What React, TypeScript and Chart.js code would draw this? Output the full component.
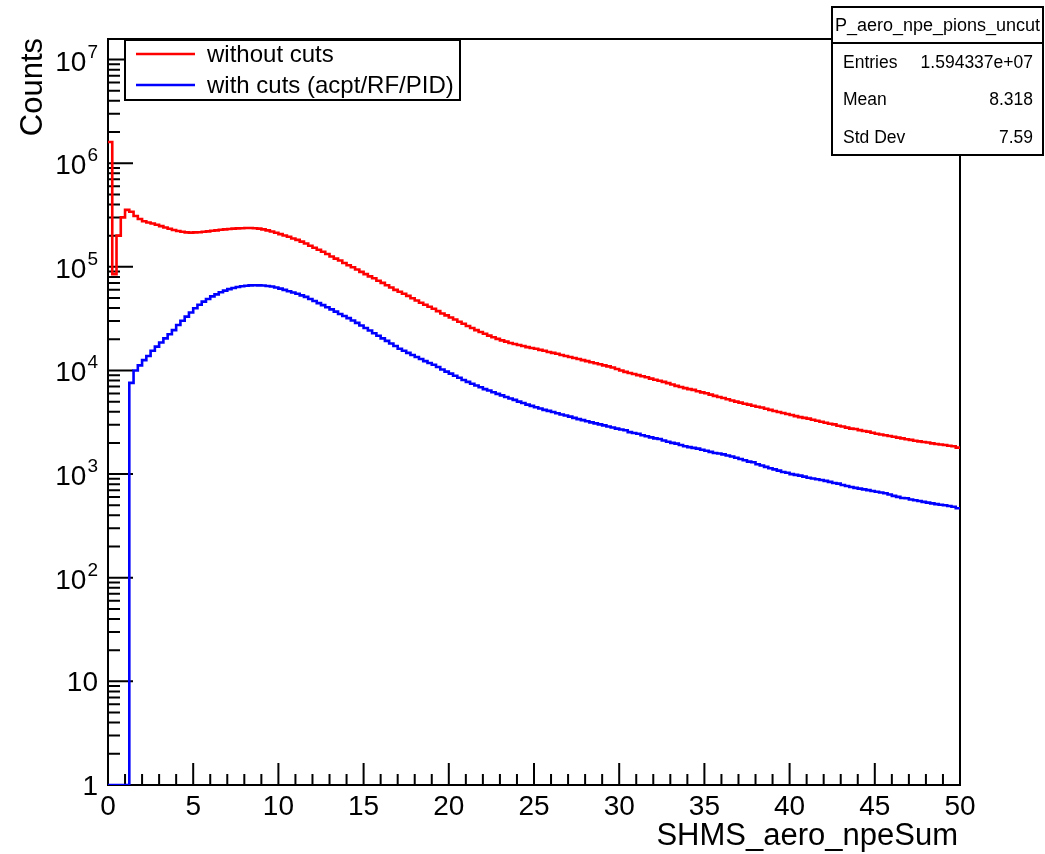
import React, { useEffect, useRef } from 'react';
import { Chart, registerables } from 'chart.js';

Chart.register(...registerables);

// ---------------- data ----------------
const BIN_WIDTH = 0.25; // 200 bins from 0 to 50
const X_MIN = 0;
const X_MAX = 50;
const Y_MIN = 1;
const Y_MAX = 1.58e7;

const withoutCuts = [
  1.6e6, 8.5e4, 2.0e5, 3.0e5, 3.55e5, 3.4e5, 3.1e5, 2.9e5, 2.75e5, 2.68e5,
  2.62e5, 2.55e5, 2.47e5, 2.4e5, 2.33e5, 2.27e5, 2.22e5, 2.18e5, 2.15e5, 2.14e5,
  2.15e5, 2.16e5, 2.18e5, 2.2e5, 2.23e5, 2.25e5, 2.28e5, 2.3e5, 2.32e5, 2.34e5,
  2.35e5, 2.36e5, 2.37e5, 2.37e5, 2.36e5, 2.34e5, 2.3e5, 2.25e5, 2.19e5, 2.13e5,
  2.07e5, 2.01e5, 1.95e5, 1.88e5, 1.82e5, 1.75e5, 1.68e5, 1.6e5, 1.53e5, 1.46e5,
  1.4e5, 1.33e5, 1.26e5, 1.2e5, 1.15e5, 1.09e5, 1.035e5, 9.9e4, 9.44e4, 8.95e4,
  8.51e4, 8.1e4, 7.76e4, 7.35e4, 7.0e4, 6.65e4, 6.31e4, 6.0e4, 5.75e4, 5.5e4,
  5.25e4, 4.98e4, 4.73e4, 4.5e4, 4.31e4, 4.12e4, 3.94e4, 3.74e4, 3.55e4, 3.4e4,
  3.24e4, 3.1e4, 2.95e4, 2.82e4, 2.69e4, 2.57e4, 2.45e4, 2.35e4, 2.26e4, 2.17e4,
  2.09e4, 2.02e4, 1.95e4, 1.9e4, 1.84e4, 1.8e4, 1.76e4, 1.72e4, 1.68e4, 1.65e4,
  1.62e4, 1.58e4, 1.55e4, 1.51e4, 1.48e4, 1.45e4, 1.41e4, 1.38e4, 1.35e4, 1.32e4,
  1.29e4, 1.26e4, 1.23e4, 1.2e4, 1.175e4, 1.15e4, 1.12e4, 1.095e4, 1.07e4, 1.035e4,
  1.0e4, 9.7e3, 9.44e3, 9.25e3, 9.02e3, 8.8e3, 8.61e3, 8.35e3, 8.13e3, 7.95e3,
  7.76e3, 7.55e3, 7.33e3, 7.1e3, 6.92e3, 6.75e3, 6.61e3, 6.5e3, 6.31e3, 6.15e3,
  6.03e3, 5.85e3, 5.69e3, 5.55e3, 5.43e3, 5.28e3, 5.13e3, 5.0e3, 4.9e3, 4.78e3,
  4.68e3, 4.57e3, 4.47e3, 4.4e3, 4.27e3, 4.17e3, 4.07e3, 3.98e3, 3.89e3, 3.8e3,
  3.72e3, 3.63e3, 3.55e3, 3.49e3, 3.43e3, 3.35e3, 3.27e3, 3.2e3, 3.13e3, 3.06e3,
  3.02e3, 2.93e3, 2.88e3, 2.81e3, 2.75e3, 2.72e3, 2.66e3, 2.61e3, 2.57e3, 2.51e3,
  2.45e3, 2.41e3, 2.37e3, 2.33e3, 2.29e3, 2.25e3, 2.21e3, 2.17e3, 2.14e3, 2.1e3,
  2.07e3, 2.04e3, 2.02e3, 1.98e3, 1.95e3, 1.93e3, 1.91e3, 1.88e3, 1.86e3, 1.8e3,
];

const withCuts = [
  0, 0, 0, 0, 0, 7.6e3, 1.0e4, 1.12e4, 1.26e4, 1.38e4,
  1.55e4, 1.7e4, 1.86e4, 2.04e4, 2.24e4, 2.45e4, 2.75e4, 3.02e4, 3.31e4, 3.63e4,
  3.98e4, 4.31e4, 4.62e4, 4.9e4, 5.19e4, 5.43e4, 5.69e4, 5.89e4, 6.1e4, 6.24e4,
  6.38e4, 6.49e4, 6.58e4, 6.62e4, 6.64e4, 6.63e4, 6.6e4, 6.53e4, 6.46e4, 6.32e4,
  6.17e4, 6.0e4, 5.82e4, 5.66e4, 5.5e4, 5.3e4, 5.13e4, 4.9e4, 4.68e4, 4.47e4,
  4.27e4, 4.08e4, 3.89e4, 3.7e4, 3.51e4, 3.35e4, 3.2e4, 3.04e4, 2.88e4, 2.72e4,
  2.57e4, 2.43e4, 2.29e4, 2.16e4, 2.04e4, 1.93e4, 1.82e4, 1.72e4, 1.62e4, 1.55e4,
  1.48e4, 1.41e4, 1.35e4, 1.29e4, 1.23e4, 1.18e4, 1.135e4, 1.08e4, 1.023e4, 9.75e3,
  9.33e3, 8.9e3, 8.51e3, 8.1e3, 7.76e3, 7.45e3, 7.16e3, 6.9e3, 6.61e3, 6.4e3,
  6.17e3, 5.95e3, 5.75e3, 5.55e3, 5.37e3, 5.2e3, 5.01e3, 4.85e3, 4.68e3, 4.55e3,
  4.42e3, 4.3e3, 4.17e3, 4.08e3, 3.98e3, 3.87e3, 3.76e3, 3.68e3, 3.59e3, 3.49e3,
  3.39e3, 3.32e3, 3.24e3, 3.16e3, 3.09e3, 3.02e3, 2.95e3, 2.88e3, 2.82e3, 2.75e3,
  2.69e3, 2.65e3, 2.54e3, 2.49e3, 2.45e3, 2.37e3, 2.32e3, 2.26e3, 2.21e3, 2.18e3,
  2.11e3, 2.05e3, 2.0e3, 1.97e3, 1.91e3, 1.86e3, 1.82e3, 1.79e3, 1.76e3, 1.72e3,
  1.68e3, 1.64e3, 1.6e3, 1.58e3, 1.55e3, 1.51e3, 1.48e3, 1.44e3, 1.4e3, 1.36e3,
  1.32e3, 1.3e3, 1.245e3, 1.21e3, 1.175e3, 1.14e3, 1.11e3, 1.08e3, 1.047e3, 1.03e3,
  1.0e3, 983, 966, 945, 923, 907, 891, 876, 861, 841,
  822, 810, 785, 767, 750, 737, 724, 712, 700, 688,
  676, 664, 653, 635, 617, 603, 589, 585, 569, 560,
  550, 540, 531, 522, 513, 507, 501, 492, 484, 468,
];

const seriesLabels = ['without cuts', 'with cuts (acpt/RF/PID)'];
const seriesColors = ['rgb(255,0,0)', 'rgb(0,0,255)'];

const xTickLabels = ['0', '5', '10', '15', '20', '25', '30', '35', '40', '45', '50'];
const xTickValues = [0, 5, 10, 15, 20, 25, 30, 35, 40, 45, 50];
const yTickExponents = [0, 1, 2, 3, 4, 5, 6, 7];

const xTitle = 'SHMS_aero_npeSum';
const yTitle = 'Counts';
const statsTitle = 'P_aero_npe_pions_uncut';
const statsNames = ['Entries', 'Mean', 'Std Dev'];
const statsValues = ['1.594337e+07', '8.318', '7.59'];

const FONT = '"Liberation Sans", Arial, Helvetica, sans-serif';

function toSteps(values: number[]) {
  const pts = values.map((v, i) => ({ x: i * BIN_WIDTH, y: v > 0 ? v : Y_MIN }));
  const last = values[values.length - 1];
  pts.push({ x: values.length * BIN_WIDTH, y: last > 0 ? last : Y_MIN });
  return pts;
}

const rootPlugin = {
  id: 'rootStyle',
  beforeDraw(chart: any) {
    const ctx = chart.ctx;
    ctx.save();
    ctx.fillStyle = '#ffffff';
    ctx.fillRect(0, 0, chart.width, chart.height);
    ctx.restore();
  },
  beforeDatasetsDraw(chart: any) {
    const ctx = chart.ctx;
    const { left, right, top, bottom } = chart.chartArea;
    const xs = chart.scales.x;
    const ys = chart.scales.y;
    ctx.save();
    ctx.strokeStyle = '#000';
    ctx.lineWidth = 2;
    ctx.strokeRect(left, top, right - left, bottom - top);
    ctx.beginPath();
    // y ticks (inside)
    for (const k of yTickExponents) {
      const base = Math.pow(10, k);
      const py = ys.getPixelForValue(base);
      ctx.moveTo(left, py);
      ctx.lineTo(left + 25, py);
      for (let m = 2; m <= 9; m++) {
        const v = m * base;
        if (v > Y_MAX) break;
        const p = ys.getPixelForValue(v);
        ctx.moveTo(left, p);
        ctx.lineTo(left + 12, p);
      }
    }
    // x ticks (inside)
    for (let v = X_MIN; v <= X_MAX; v += 1) {
      const px = xs.getPixelForValue(v);
      const len = v % 5 === 0 ? 22 : 11;
      ctx.moveTo(px, bottom);
      ctx.lineTo(px, bottom - len);
    }
    ctx.stroke();
    ctx.restore();
  },
  afterDatasetsDraw(chart: any) {
    const ctx = chart.ctx;
    const { left, right, top } = chart.chartArea;
    const xs = chart.scales.x;
    const ys = chart.scales.y;
    ctx.save();
    ctx.fillStyle = '#000';

    // x tick labels
    ctx.font = `28px ${FONT}`;
    ctx.textAlign = 'center';
    ctx.textBaseline = 'alphabetic';
    xTickValues.forEach((v, i) => {
      ctx.fillText(xTickLabels[i], xs.getPixelForValue(v), 815);
    });

    // y tick labels 10^k
    const labelRight = left - 10;
    for (const k of yTickExponents) {
      const py = ys.getPixelForValue(Math.pow(10, k));
      if (k === 0) {
        ctx.font = `28px ${FONT}`;
        ctx.textAlign = 'right';
        ctx.fillText('1', labelRight, py + 10);
      } else if (k === 1) {
        ctx.font = `28px ${FONT}`;
        ctx.textAlign = 'right';
        ctx.fillText('10', labelRight, py + 10);
      } else {
        ctx.font = `19px ${FONT}`;
        ctx.textAlign = 'right';
        const sup = String(k);
        const supW = ctx.measureText(sup).width;
        ctx.fillText(sup, labelRight, py - 2);
        ctx.font = `28px ${FONT}`;
        ctx.fillText('10', labelRight - supW - 1, py + 11);
      }
    }

    // axis titles
    ctx.font = `31px ${FONT}`;
    ctx.textAlign = 'right';
    ctx.fillText(xTitle, right - 2, 845);
    ctx.save();
    ctx.translate(42, top - 1);
    ctx.rotate(-Math.PI / 2);
    ctx.textAlign = 'right';
    ctx.fillText(yTitle, 0, 0);
    ctx.restore();

    // legend
    const lx0 = 125, ly0 = top + 1, lx1 = 460, ly1 = 100;
    ctx.fillStyle = '#fff';
    ctx.fillRect(lx0, ly0, lx1 - lx0, ly1 - ly0);
    ctx.strokeStyle = '#000';
    ctx.lineWidth = 2;
    ctx.strokeRect(lx0, ly0, lx1 - lx0, ly1 - ly0);
    const rowsY = [54, 85];
    seriesLabels.forEach((lab, i) => {
      ctx.strokeStyle = seriesColors[i];
      ctx.lineWidth = 2.5;
      ctx.beginPath();
      ctx.moveTo(136, rowsY[i]);
      ctx.lineTo(195, rowsY[i]);
      ctx.stroke();
      ctx.fillStyle = '#000';
      ctx.font = `24px ${FONT}`;
      ctx.textAlign = 'left';
      ctx.textBaseline = 'middle';
      ctx.fillText(lab, 207, rowsY[i] + 1);
    });

    // stats box
    const sx0 = 832, sy0 = 7, sx1 = 1043, sy1 = 155, sHead = 43;
    ctx.fillStyle = '#fff';
    ctx.fillRect(sx0, sy0, sx1 - sx0, sy1 - sy0);
    ctx.strokeStyle = '#000';
    ctx.lineWidth = 2;
    ctx.strokeRect(sx0, sy0, sx1 - sx0, sy1 - sy0);
    ctx.beginPath();
    ctx.moveTo(sx0, sHead);
    ctx.lineTo(sx1, sHead);
    ctx.stroke();
    ctx.fillStyle = '#000';
    ctx.font = `18px ${FONT}`;
    ctx.textAlign = 'center';
    ctx.textBaseline = 'middle';
    ctx.fillText(statsTitle, (sx0 + sx1) / 2, 26);
    const statY = [63, 100, 138];
    ctx.font = `17.5px ${FONT}`;
    statsNames.forEach((n, i) => {
      ctx.textAlign = 'left';
      ctx.fillText(n, 843, statY[i]);
      ctx.textAlign = 'right';
      ctx.fillText(statsValues[i], 1033, statY[i]);
    });
    ctx.restore();
  },
};

export default function App() {
  const canvasRef = useRef<HTMLCanvasElement | null>(null);

  useEffect(() => {
    const canvas = canvasRef.current;
    if (!canvas) return;
    const chart = new Chart(canvas, {
      type: 'line',
      data: {
        datasets: [
          {
            label: seriesLabels[0],
            data: toSteps(withoutCuts),
            borderColor: seriesColors[0],
            borderWidth: 2.6,
            pointRadius: 0,
            stepped: true,
            fill: false,
          },
          {
            label: seriesLabels[1],
            data: toSteps(withCuts),
            borderColor: seriesColors[1],
            borderWidth: 2.6,
            pointRadius: 0,
            stepped: true,
            fill: false,
          },
        ],
      },
      options: {
        responsive: false,
        animation: false,
        devicePixelRatio: 1,
        parsing: false,
        layout: { padding: { left: 108, right: 85, top: 39, bottom: 69 } },
        scales: {
          x: { type: 'linear', min: X_MIN, max: X_MAX, display: false },
          y: { type: 'logarithmic', min: Y_MIN, max: Y_MAX, display: false },
        },
        plugins: {
          legend: { display: false },
          tooltip: { enabled: false },
          title: { display: false },
        },
        events: [],
      },
      plugins: [rootPlugin],
    });
    return () => chart.destroy();
  }, []);

  return (
    <div style={{ position: 'fixed', left: 0, top: 0, width: 1045, height: 854, background: '#fff' }}>
      <canvas ref={canvasRef} width={1045} height={854} style={{ display: 'block' }} />
    </div>
  );
}
